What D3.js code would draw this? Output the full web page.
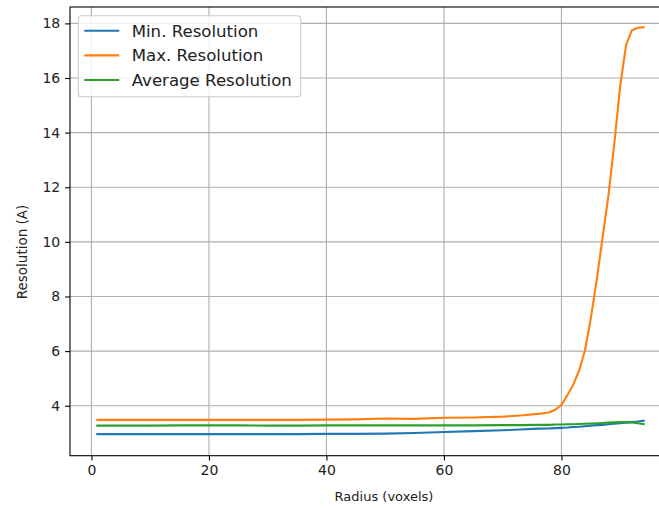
<!DOCTYPE html>
<html><head><meta charset="utf-8">
<script src="https://cdn.jsdelivr.net/npm/d3@7"></script>
<style>body{margin:0;background:#fff;} svg{display:block;font-family:"DejaVu Sans",sans-serif;}</style>
</head><body>
<svg id="c" width="659" height="508"></svg>
<script>
const radius = [1,5,10,15,20,25,30,35,40,45,50,55,60,65,70,73,76,78,79,80,81,82,83,84,85,86,87,88,89,90,91,92,93,94];
const minRes = [2.96,2.96,2.96,2.96,2.96,2.96,2.96,2.96,2.97,2.97,2.98,3.00,3.04,3.07,3.10,3.13,3.16,3.17,3.18,3.19,3.20,3.22,3.23,3.25,3.27,3.29,3.30,3.32,3.34,3.36,3.38,3.40,3.42,3.45];
const maxRes = [3.48,3.48,3.48,3.48,3.48,3.48,3.48,3.48,3.49,3.50,3.53,3.52,3.56,3.57,3.60,3.64,3.70,3.76,3.86,4.03,4.38,4.76,5.28,6.02,7.2,8.6,10.15,11.7,13.6,15.7,17.2,17.75,17.84,17.86];
const avgRes = [3.27,3.27,3.27,3.28,3.28,3.28,3.27,3.27,3.28,3.28,3.28,3.28,3.28,3.28,3.29,3.29,3.30,3.30,3.31,3.31,3.32,3.32,3.33,3.34,3.35,3.36,3.37,3.38,3.39,3.40,3.40,3.39,3.36,3.33];
const seriesNames = ["Min. Resolution","Max. Resolution","Average Resolution"];
const seriesColors = ["#1f77b4","#ff7f0e","#2ca02c"];
const xTicks = [0,20,40,60,80];
const yTicks = [4,6,8,10,12,14,16,18];
const xLabel = "Radius (voxels)";
const yLabel = "Resolution (A)";

const svg = d3.select("#c");
const L = 70, T = 7, B = 455.7, R = 671;
const x = d3.scaleLinear().domain([-3.65, 98.65]).range([L, R]);
const y = d3.scaleLinear().domain([2.17, 18.6]).range([B, T]);

// grid
svg.append("g").selectAll("line").data(xTicks).join("line")
  .attr("x1", d=>x(d)).attr("x2", d=>x(d)).attr("y1", T).attr("y2", B)
  .attr("stroke", "#b0b0b0").attr("stroke-width", 1.1);
svg.append("g").selectAll("line").data(yTicks).join("line")
  .attr("y1", d=>y(d)).attr("y2", d=>y(d)).attr("x1", L).attr("x2", R)
  .attr("stroke", "#b0b0b0").attr("stroke-width", 1.1);

// lines
const data = [minRes, maxRes, avgRes];
const line = d3.line().x((d,i)=>x(radius[i])).y(d=>y(d));
data.forEach((s,k)=>{
  svg.append("path").datum(s).attr("d", line).attr("fill","none")
    .attr("stroke", seriesColors[k]).attr("stroke-width", 2.1)
    .attr("stroke-linejoin","round").attr("stroke-linecap","square");
});

// axes
const xAxis = d3.axisBottom(x).tickValues(xTicks).tickSize(4.9).tickPadding(4.9).tickFormat(d3.format("d"));
const yAxis = d3.axisLeft(y).tickValues(yTicks).tickSize(4.9).tickPadding(4.9).tickFormat(d3.format("d"));
const gx = svg.append("g").attr("transform", `translate(0,${B})`).call(xAxis);
const gy = svg.append("g").attr("transform", `translate(${L},0)`).call(yAxis);
[gx, gy].forEach(g=>{
  g.select(".domain").remove();
  g.selectAll(".tick line").attr("stroke","#000").attr("stroke-width",1.1);
  g.selectAll(".tick text").attr("fill","#222").style("font-size","14px").style("font-family","DejaVu Sans");
});
// spines
svg.append("rect").attr("x", L).attr("y", T).attr("width", R-L).attr("height", B-T)
  .attr("fill","none").attr("stroke","#000").attr("stroke-width",1.1);

// labels
svg.append("text").attr("x", 384).attr("y", 501)
  .attr("text-anchor","middle").style("font-size","13px").attr("fill","#222").text(xLabel);
svg.append("text").attr("transform", `translate(27,252) rotate(-90)`)
  .attr("text-anchor","middle").style("font-size","13.5px").attr("fill","#222").text(yLabel);

// legend
const lg = svg.append("g");
lg.append("rect").attr("x",78.3).attr("y",15.7).attr("width",222.4).attr("height",81)
  .attr("rx",3).attr("fill","#fff").attr("fill-opacity",0.8).attr("stroke","#ccc").attr("stroke-width",1.1);
seriesNames.forEach((n,k)=>{
  const yy = 30.7 + k*24.65;
  lg.append("line").attr("x1",84.3).attr("x2",119.3).attr("y1",yy).attr("y2",yy)
    .attr("stroke",seriesColors[k]).attr("stroke-width",2.1);
  lg.append("text").attr("x",131.7).attr("y",yy).attr("dy","0.36em")
    .style("font-size","16.6px").attr("fill","#222").text(n);
});
</script>
</body></html>
